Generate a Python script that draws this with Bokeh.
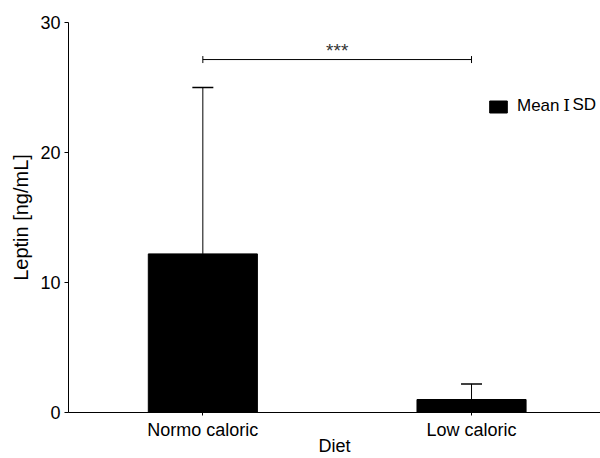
from bokeh.plotting import figure
from bokeh.models import (Range1d, FixedTicker, ColumnDataSource, Whisker, TeeHead,
                          Legend, LegendItem, Label)
from bokeh.embed import file_html
from bokeh.resources import INLINE

# ---- data ----
categories = ["Normo caloric", "Low caloric"]
means = [12.2, 1.0]
sds = [12.8, 1.2]
y_ticks = [0, 10, 20, 30]
sig_label = "***"
sig_y = 27.15
sig_text_y = 27.85
x_label = "Diet"
y_label = "Leptin [ng/mL]"
legend_label = "Mean"

FONT = "Liberation Sans"

positions = [i + 0.5 for i in range(len(categories))]
upper = [m + s for m, s in zip(means, sds)]
src = ColumnDataSource(dict(x=positions, cat=categories, mean=means, upper=upper))

x_range = Range1d(0, 1.98)
p = figure(width=600, height=458, x_range=x_range, y_range=Range1d(0, 30),
           output_backend="svg", toolbar_location=None,
           min_border_left=68, min_border_right=0, min_border_top=22, min_border_bottom=46)
p.outline_line_color = None
p.grid.visible = False

bars = p.vbar(x="x", top="mean", width=0.406, bottom=0, source=src,
              fill_color="black", line_color="black")

err = Whisker(base="x", lower="mean", upper="upper", source=src,
              line_color="black", line_width=1,
              upper_head=TeeHead(size=21, line_color="black", line_width=1.5),
              lower_head=None)
p.add_layout(err)

sig_src = ColumnDataSource(dict(y=[sig_y], x0=[positions[0]], x1=[positions[1]]))
br = Whisker(dimension="width", base="y", lower="x0", upper="x1", source=sig_src,
             line_color="black", line_width=1,
             upper_head=TeeHead(size=7, line_color="black", line_width=1),
             lower_head=TeeHead(size=7, line_color="black", line_width=1))
p.add_layout(br)
p.add_layout(Label(x=sum(positions) / 2, y=sig_text_y, text=sig_label, text_align="center",
                   text_baseline="alphabetic", text_font=FONT, text_font_size="19px",
                   text_color="#333333"))

# axes
p.xaxis.ticker = FixedTicker(ticks=positions)
p.xaxis.major_label_overrides = {pos: c for pos, c in zip(positions, categories)}
p.yaxis.ticker = FixedTicker(ticks=y_ticks)
for ax in (p.xaxis[0], p.yaxis[0]):
    ax.minor_tick_line_color = None
    ax.major_tick_in = 0
    ax.axis_line_color = "black"
    ax.major_tick_line_color = "black"
    ax.major_label_text_font = FONT
    ax.major_label_text_font_size = "18px"
    ax.major_label_text_color = "black"
    ax.axis_label_text_font = FONT
    ax.axis_label_text_font_size = "20px"
    ax.axis_label_text_font_style = "normal"
    ax.axis_label_text_color = "black"
p.xaxis.major_tick_out = 3
p.yaxis.major_tick_out = 4
p.xaxis.major_label_standoff = 4
p.yaxis.major_label_standoff = 4
p.yaxis.axis_label = y_label
p.yaxis.axis_label_standoff = 5
p.xaxis.axis_label = x_label
p.xaxis.axis_label_text_font_size = "18px"
p.xaxis.axis_label_standoff = -7

leg = Legend(items=[LegendItem(label=legend_label, renderers=[bars])], location=(419, 296),
             padding=0, margin=0, border_line_color=None, background_fill_alpha=0,
             glyph_width=22, glyph_height=15, label_standoff=8, spacing=0,
             label_text_font=FONT, label_text_font_size="17px", label_text_color="black",
             label_height=15)
p.add_layout(leg)
p.add_layout(Label(x=498, y=308, x_units="screen", y_units="screen", text="I",
                   text_font="DejaVu Serif", text_font_size="17px", text_align="center",
                   text_baseline="alphabetic", text_color="black"))
p.add_layout(Label(x=504, y=308, x_units="screen", y_units="screen", text="SD",
                   text_font=FONT, text_font_size="17px", text_baseline="alphabetic",
                   text_color="black"))

open("out.html", "w").write(file_html(p, INLINE))
